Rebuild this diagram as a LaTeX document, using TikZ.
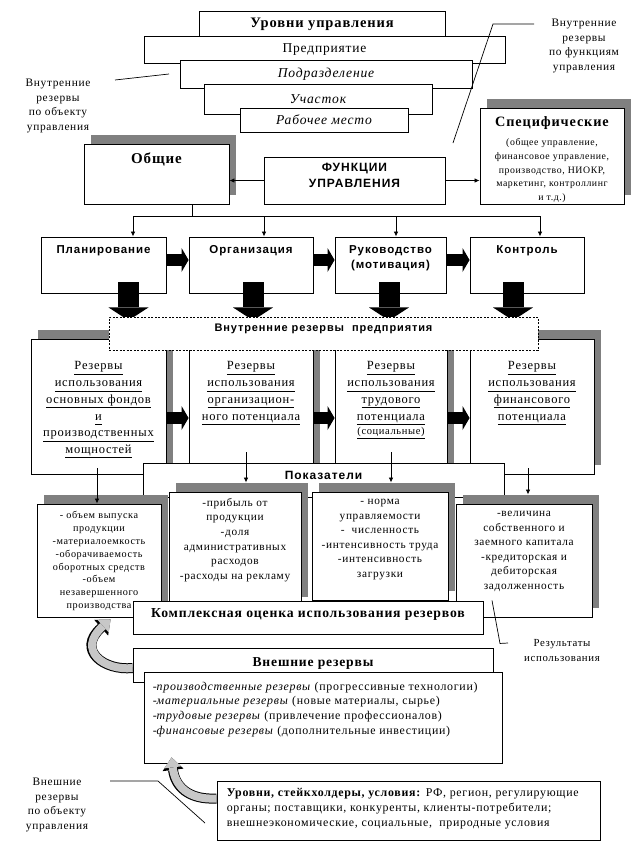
\documentclass[tikz,border=0pt]{standalone}
\usepackage{fontspec}
\setmainfont{Liberation Serif}[LetterSpace=6]
\setsansfont{Liberation Sans}[LetterSpace=8]
\usetikzlibrary{arrows.meta, positioning, calc, shadows}
\newcommand{\resline}[1]{\underline{#1\vphantom{ру}}}

\begin{document}
\begin{tikzpicture}[x=1pt, y=-1pt,
            box/.style={draw, fill=white, line width=0.9pt, inner sep=0pt},
            grayshadow/.style={drop shadow={shadow xshift=7pt, shadow yshift=9pt, fill=black!50, opacity=1}},
            toptext/.style={anchor=north, align=center, inner sep=0pt},
            note/.style={align=center, inner sep=0pt, font=\fontsize{11.4}{14.7}\selectfont},
            lvlfont/.style={font=\fontsize{13.5}{15}\selectfont},
            lvlitfont/.style={font=\itshape\fontsize{13.6}{15}\selectfont},
            funclabel/.style={toptext, yshift=-8.5pt, font=\sffamily\bfseries\fontsize{11.5}{15}\selectfont},
            restext/.style={toptext, yshift=-23pt, font=\fontsize{12.5}{16.7}\selectfont},
            indtext/.style={toptext, font=\fontsize{11.3}{14.6}\selectfont},
            thinline/.style={line width=0.7pt},
            arrow/.style={-{Latex[length=5pt, width=4.5pt]}, line width=0.8pt},
            flatarrow/.style={line width=12pt, -{Triangle[width=24pt, length=7pt, line width=0pt]}},
            droparrow/.style={line width=21pt, -{Triangle[width=40pt, length=13pt, line width=0pt]}},
            curvearrow/.style={line width=8pt, draw=black!22, -{Triangle[width=17pt, length=10pt, line width=0pt]},
                preaction={draw=black, line width=10pt, -{Triangle[width=21pt, length=12.5pt, line width=0pt]}}}
        ]
            \useasboundingbox (0,0) rectangle (637,849);

% Levels of management
            \node[box, minimum width=246pt, minimum height=26pt, font=\bfseries\fontsize{14.5}{16}\selectfont] (levels) at (322,24) {Уровни управления};
            \node[box, minimum width=361pt, minimum height=27pt, lvlfont] (lvl1) at (324.5,49.5) {Предприятие};
            \node[box, minimum width=292pt, minimum height=28pt, lvlitfont] (lvl2) at (326,74) {Подразделение};
            \node[box, minimum width=228pt, minimum height=30pt, lvlitfont] (lvl3) at (318,99) {Участок};
            \node[box, minimum width=168pt, minimum height=24pt, lvlitfont] (lvl4) at (324,120) {Рабочее место};

            \node[note] (objnote) at (58,106) {Внутренние\\резервы\\по объекту\\управления};
            \coordinate (objA) at (115,80);
            \coordinate (objB) at (169,74);
            \draw[thinline] (objA) -- (objB);

            \node[note] (funcnote) at (584,46) {Внутренние\\резервы\\по функциям\\управления};
            \coordinate (funcA) at (534,24);
            \coordinate (funcB) at (493,24);
            \coordinate (funcC) at (453,143);
            \draw[thinline] (funcA) -- (funcB) -- (funcC);

% Functions of management
            \node[box, grayshadow, minimum width=145pt, minimum height=60pt,
                label={[toptext, yshift=-9pt, font=\bfseries\fontsize{15}{17}\selectfont]north:Общие}] (obshie) at (156.5,174) {};
            \node[box, minimum width=181pt, minimum height=47pt,
                label={[toptext, yshift=-6pt, font=\sffamily\bfseries\fontsize{12}{16}\selectfont]north:{ФУНКЦИИ\\УПРАВЛЕНИЯ}}] (funk) at (354.5,180.5) {};
            \node[box, grayshadow, minimum width=144pt, minimum height=96pt,
                label={[toptext, yshift=-9.3pt, font=\fontsize{9.8}{13.7}\selectfont]north:{{\bfseries\fontsize{14.3}{16}\selectfont Специфические}\\[5pt](общее управление,\\финансовое управление,\\производство, НИОКР,\\маркетинг, контроллинг\\и т.д.)}}] (spec) at (552,156) {};

            \draw[arrow] (funk.west) -- (funk.west -| obshie.east);
            \draw[arrow] (funk.east) -- (funk.east -| spec.west);

            \node[box, minimum width=125pt, minimum height=56pt, label={[funclabel]north:Планирование}] (plan) at (103.5,265) {};
            \node[box, minimum width=124pt, minimum height=56pt, label={[funclabel]north:Организация}] (org) at (251,265) {};
            \node[box, minimum width=111pt, minimum height=56pt, label={[funclabel]north:{Руководство\\(мотивация)}}] (ruk) at (390.5,265) {};
            \node[box, minimum width=114pt, minimum height=56pt, label={[funclabel]north:Контроль}] (kontr) at (527,265) {};

            \coordinate (bus) at (192,216);
            \draw[line width=0.8pt] ($(obshie.south)+(35.5,0)$) -- (bus);
            \draw[line width=0.8pt] ($(plan.north |- bus)+(29.5,0)$) -- ($(kontr.north |- bus)+(13,0)$);
            \foreach \fn/\dx in {plan/29.5, org/13, ruk/5.5, kontr/13}
                \draw[arrow] ($(\fn.north |- bus)+(\dx,0)$) -- ($(\fn.north)+(\dx,0)$);

            \foreach \a/\b in {plan/org, org/ruk, ruk/kontr}
                \draw[flatarrow] ($(\a.east)+(0,-5)$) -- ($(\b.west)+(0,-5)$);

% Internal reserves
            \node[box, grayshadow, minimum width=135pt, minimum height=135pt,
                label={[restext]north:{\resline{Резервы}\\\resline{использования}\\\resline{основных фондов}\\\resline{и}\\\resline{производственных}\\\resline{мощностей}}}] (res1) at (98.5,406.5) {};
            \node[box, grayshadow, minimum width=124pt, minimum height=135pt,
                label={[restext]north:{\resline{Резервы}\\\resline{использования}\\\resline{организацион-}\\\resline{ного потенциала}}}] (res2) at (251,406.5) {};
            \node[box, grayshadow, minimum width=112pt, minimum height=135pt,
                label={[restext]north:{\resline{Резервы}\\\resline{использования}\\\resline{трудового}\\\resline{потенциала}\\[-2pt]{\fontsize{10.5}{12}\selectfont\resline{(социальные)}}}}] (res3) at (391,406.5) {};
            \node[box, grayshadow, minimum width=124pt, minimum height=135pt,
                label={[restext]north:{\resline{Резервы}\\\resline{использования}\\\resline{финансового}\\\resline{потенциала}}}] (res4) at (532,406.5) {};

            \foreach \fn/\dx in {plan/25, org/2, ruk/-1.5, kontr/-14}
                \draw[droparrow] ($(\fn.south)+(\dx,-11)$) -- ($(\fn.south)+(\dx,27)$);

            \node[box, dash pattern=on 2pt off 1.5pt, minimum width=429pt, minimum height=33pt,
                label={[toptext, yshift=-7.5pt, font=\sffamily\bfseries\fontsize{11}{14}\selectfont]north:Внутренние резервы\ \ предприятия}] (vnutr) at (323.5,333.5) {};

            \foreach \a/\b in {res1/res2, res2/res3, res3/res4}
                \draw[flatarrow] ($(\a.east)+(0,11.5)$) -- ($(\b.west)+(0,11.5)$);

% Indicators
            \node[box, minimum width=361pt, minimum height=34pt,
                label={[toptext, yshift=-8pt, font=\sffamily\bfseries\fontsize{12}{15}\selectfont]north:Показатели}] (pokaz) at (323.5,480) {};

            \node[box, grayshadow, minimum width=124pt, minimum height=113pt,
                label={[toptext, yshift=-7.9pt, font=\fontsize{10.2}{12.8}\selectfont]north:{- объем выпуска\\продукции\\-материалоемкость\\-оборачиваемость\\оборотных средств\\-объем\\незавершенного\\производства}}] (ind1) at (99,560.5) {};
            \node[box, grayshadow, minimum width=132pt, minimum height=114pt,
                label={[indtext, yshift=-6.5pt]north:{-прибыль от\\продукции\\-доля\\административных\\расходов\\-расходы на рекламу}}] (ind2) at (235,549) {};
            \node[box, grayshadow, minimum width=136pt, minimum height=108pt,
                label={[indtext, yshift=-7.5pt]north:{- норма\\управляемости\\- \ численность\\-интенсивность труда\\-интенсивность\\загрузки}}] (ind3) at (380,546) {};
            \node[box, grayshadow, minimum width=136pt, minimum height=113pt,
                label={[indtext, yshift=-7.5pt]north:{-величина\\собственного и\\заемного капитала\\-кредиторская и\\дебиторская\\задолженность}}] (ind4) at (524,560.5) {};

            \draw[arrow] ($(res1.south)+(-1.5,-6)$) -- ($(ind1.north)+(-2,0)$);
            \draw[arrow] ($(res2.south)+(-5,-22)$) -- ($(ind2.north)+(11,-9)$);
            \draw[arrow] ($(res3.south)+(0,-22)$) -- ($(ind3.north)+(11,-9)$);
            \draw[arrow] ($(res4.south)+(-4,-6)$) -- ($(ind4.north)+(4,-9)$);

            \node[box, minimum width=350pt, minimum height=33pt,
                label={[toptext, yshift=-7.5pt, font=\bfseries\fontsize{13.7}{16}\selectfont]north:Комплексная оценка использования резервов}] (kompl) at (308,617.5) {};

            \node[note, font=\fontsize{10.8}{15}\selectfont] (rezult) at (562,650.5) {Результаты\\использования};
            \coordinate (rezend) at (508,643);
            \draw[thinline] ($(ind4.south)+(-32,-17)$) -- ++(8,43) -- (rezend);

% External reserves
            \node[box, minimum width=360pt, minimum height=34pt,
                label={[toptext, yshift=-9.6pt, font=\bfseries\fontsize{13.6}{16}\selectfont]north:Внешние резервы}] (vnesh) at (313,665) {};
            \node[box, minimum width=358pt, minimum height=91pt,
                label={[anchor=north west, align=left, inner sep=0pt, xshift=9pt, yshift=-10.2pt, font=\fontsize{11.9}{14.7}\selectfont]north west:{-\textit{производственные резервы} (прогрессивные технологии)\\-\textit{материальные резервы} (новые материалы, сырье)\\-\textit{трудовые резервы} (привлечение профессионалов)\\-\textit{финансовые резервы} (дополнительные инвестиции)}}] (vneshlist) at (323,717.5) {};

            \node[box, minimum width=383pt, minimum height=59pt,
                label={[anchor=north west, align=left, inner sep=0pt, xshift=10pt, yshift=-7.2pt, font=\fontsize{11.9}{15}\selectfont]north west:{\textbf{Уровни, стейкхолдеры, условия:} РФ, регион, регулирующие\\органы; поставщики, конкуренты, клиенты-потребители;\\внешнеэкономические, социальные,\ \ природные условия}}] (stake) at (408.5,810.5) {};

            \node[note] (extnote) at (57,805) {Внешние\\резервы\\по объекту\\управления};
            \coordinate (extA) at (110,781);
            \coordinate (extB) at (158,781);
            \coordinate (extC) at (205,823);
            \draw[thinline] (extA) -- (extB) -- (extC);

            \draw[curvearrow] ($(vnesh.west)+(0,3)$) .. controls (104,671) and (76,650) .. ($(kompl.south west)+(-22,-15)$);
            \draw[curvearrow] ($(stake.west)+(0,-12)$) .. controls (188,800) and (175,786) .. ($(vneshlist.south west)+(28,-6)$);

        \end{tikzpicture}
\end{document}
